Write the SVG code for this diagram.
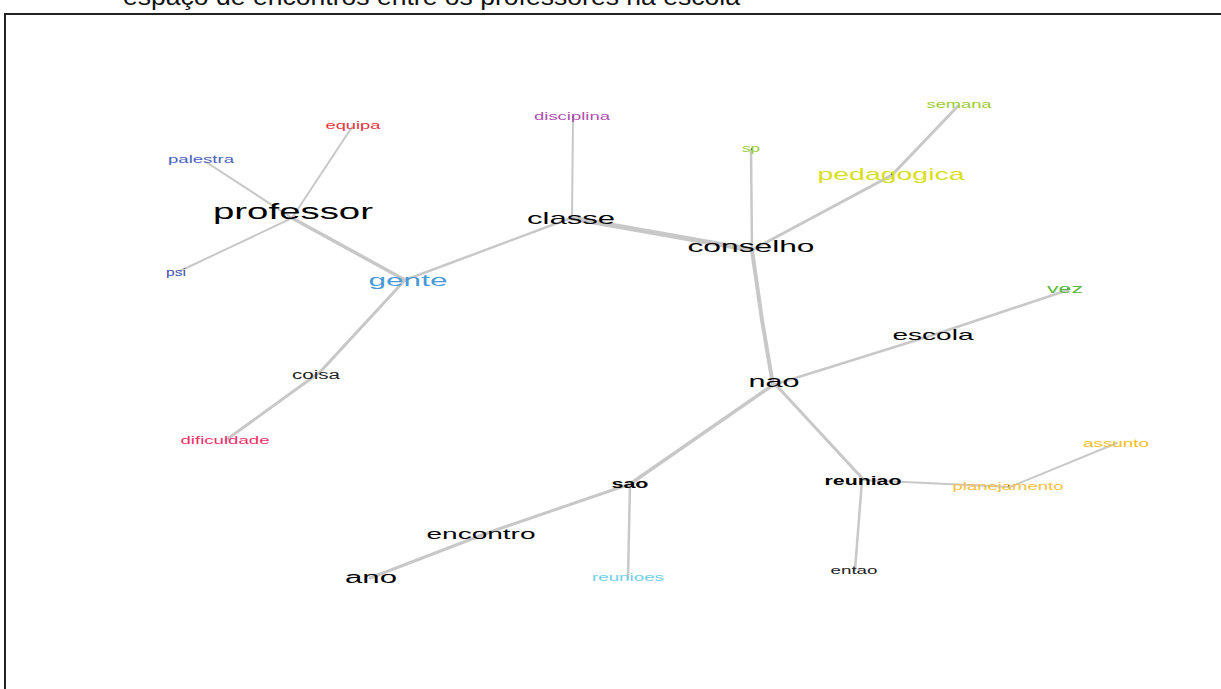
<svg xmlns="http://www.w3.org/2000/svg" width="1221" height="689" viewBox="0 0 1221 689">
<style>
text{font-family:"Liberation Sans",Arial,sans-serif;text-anchor:middle}
.e{stroke:#c8c8c8;fill:none;stroke-linecap:round}
.dot{fill:#222}
</style>
<rect width="1221" height="689" fill="#fff"/>
<text x="123" y="5" font-size="24" fill="#111" style="text-anchor:start" textLength="617" lengthAdjust="spacingAndGlyphs">espaço de encontros entre os professores na escola</text>
<rect x="5" y="14" width="1230" height="700" fill="none" stroke="#222" stroke-width="2"/>
<g id="edges">
<path class="e" stroke-width="2" d="M352,127 L292,218"/>
<path class="e" stroke-width="2" d="M206,162 L292,218"/>
<path class="e" stroke-width="2" d="M180,271 L292,218"/>
<path class="e" stroke-width="3.5" d="M292,218 L405,280"/>
<path class="e" stroke-width="2.5" d="M405,280 L571,218"/>
<path class="e" stroke-width="3" d="M405,280 L320,372 L226,440"/>
<path class="e" stroke-width="2" d="M573,118 L572,218"/>
<path class="e" stroke-width="5" d="M571,218 L752,250"/>
<path class="e" stroke-width="2.5" d="M751,150 L752,250"/>
<path class="e" stroke-width="3" d="M752,250 L892,175 L958,106"/>
<path class="e" stroke-width="4" d="M752,250 L762,320 L773,385"/>
<path class="e" stroke-width="2.5" d="M773,385 L933,335 L1068,290"/>
<path class="e" stroke-width="3.5" d="M773,385 L630,484"/>
<path class="e" stroke-width="3" d="M630,484 L490,532 L370,578"/>
<path class="e" stroke-width="2.5" d="M630,484 L628,578"/>
<path class="e" stroke-width="3" d="M776,385 L862,478"/>
<path class="e" stroke-width="2.5" d="M862,480 L855,570"/>
<path class="e" stroke-width="2" d="M862,480 L1010,487 L1117,443"/>
</g>
<g id="n-equipa"><text x="353" y="129" font-size="11" fill="#e8343c" textLength="55" lengthAdjust="spacingAndGlyphs">equipa</text></g>
<g id="n-palestra"><text x="201" y="163" font-size="11" fill="#4a64bc" textLength="66" lengthAdjust="spacingAndGlyphs">palestra</text></g>
<g id="n-professor"><text x="293" y="219" font-size="22" fill="#000" textLength="160" lengthAdjust="spacingAndGlyphs">professor</text></g>
<g id="n-psi"><text x="176" y="276" font-size="10" fill="#3a4ea8" textLength="20" lengthAdjust="spacingAndGlyphs">psi</text></g>
<g id="n-gente"><text x="408" y="286" font-size="17" fill="#4a9ad8" textLength="79" lengthAdjust="spacingAndGlyphs">gente</text></g>
<g id="n-coisa"><text x="316" y="379" font-size="12" fill="#222" textLength="48" lengthAdjust="spacingAndGlyphs">coisa</text></g>
<g id="n-dificuldade"><text x="225" y="444" font-size="11" fill="#f0306a" textLength="89" lengthAdjust="spacingAndGlyphs">dificuldade</text></g>
<g id="n-disciplina"><circle class="dot" cx="573" cy="117" r="0.9"/><text x="572" y="120" font-size="11" fill="#b050b0" textLength="76" lengthAdjust="spacingAndGlyphs">disciplina</text></g>
<g id="n-classe"><text x="571" y="224" font-size="17" fill="#000" textLength="88" lengthAdjust="spacingAndGlyphs">classe</text></g>
<g id="n-sp"><circle class="dot" cx="752" cy="149" r="0.9"/><text x="751" y="152" font-size="10" fill="#9acd32" textLength="18" lengthAdjust="spacingAndGlyphs">sp</text></g>
<g id="n-semana"><text x="959" y="108" font-size="11" fill="#9acd32" textLength="65" lengthAdjust="spacingAndGlyphs">semana</text></g>
<g id="n-pedagogica"><circle class="dot" cx="892" cy="174" r="0.9"/><text x="891" y="180" font-size="17" fill="#d8e020" textLength="147" lengthAdjust="spacingAndGlyphs">pedagogica</text></g>
<g id="n-conselho"><text x="751" y="252" font-size="17" fill="#000" textLength="127" lengthAdjust="spacingAndGlyphs">conselho</text></g>
<g id="n-vez"><circle class="dot" cx="1068" cy="289" r="0.9"/><text x="1065" y="293" font-size="13" fill="#5cb83c" textLength="36" lengthAdjust="spacingAndGlyphs">vez</text></g>
<g id="n-escola"><text x="933" y="340" font-size="15" fill="#000" textLength="81" lengthAdjust="spacingAndGlyphs">escola</text></g>
<g id="n-nao"><text x="774" y="387" font-size="16" fill="#000" textLength="51" lengthAdjust="spacingAndGlyphs">nao</text></g>
<g id="n-sao"><text x="630" y="488" font-size="12" font-weight="bold" fill="#000" textLength="37" lengthAdjust="spacingAndGlyphs">sao</text></g>
<g id="n-reuniao"><text x="863" y="485" font-size="13" font-weight="bold" fill="#000" textLength="77" lengthAdjust="spacingAndGlyphs">reuniao</text></g>
<g id="n-assunto"><text x="1116" y="447" font-size="11" fill="#f4c020" textLength="66" lengthAdjust="spacingAndGlyphs">assunto</text></g>
<g id="n-planejamento"><circle class="dot" cx="1009" cy="486" r="0.9"/><text x="1008" y="490" font-size="11" fill="#f8c040" textLength="111" lengthAdjust="spacingAndGlyphs">planejamento</text></g>
<g id="n-encontro"><text x="481" y="539" font-size="15" fill="#000" textLength="109" lengthAdjust="spacingAndGlyphs">encontro</text></g>
<g id="n-ano"><text x="371" y="583" font-size="16" fill="#000" textLength="52" lengthAdjust="spacingAndGlyphs">ano</text></g>
<g id="n-reunioes"><text x="628" y="581" font-size="11" fill="#70d0e8" textLength="72" lengthAdjust="spacingAndGlyphs">reunioes</text></g>
<g id="n-entao"><text x="854" y="574" font-size="11" fill="#222" textLength="47" lengthAdjust="spacingAndGlyphs">entao</text></g>
</svg>
